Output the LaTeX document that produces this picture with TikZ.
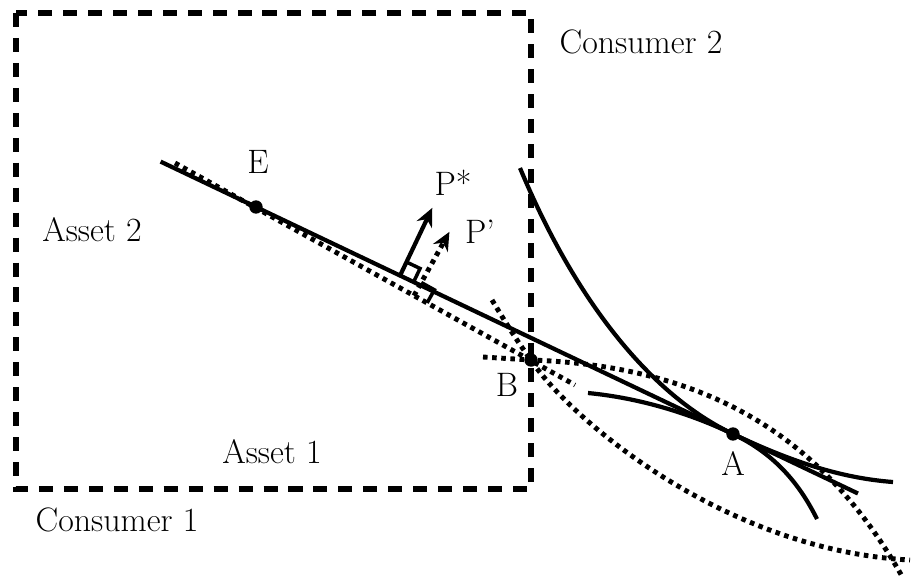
\documentclass[tikz,border=0pt]{standalone}
\usetikzlibrary{calc, arrows.meta}
\begin{document}
\begin{tikzpicture}[x=0.02cm, y=-0.02cm, line width=2.4pt,
  dotline/.style={line width=2.8pt, dash pattern=on 2.6pt off 2.6pt},
  boxline/.style={line width=3.1pt, dash pattern=on 8pt off 6.2pt},
  lbl/.style={font=\fontsize{19.3}{23}\selectfont, inner sep=0pt},
  vec/.style={-{Stealth[length=10.5pt, width=9.5pt]}},
]
  \useasboundingbox (0,0) rectangle (911,583);
  \coordinate (E) at (256,207);
  \coordinate (B) at (531,360);
  \coordinate (A) at (733,434);
  \coordinate (Lo) at (175,163);
  \coordinate (Hi) at (575,385);
  \coordinate (F1) at ($(E)!0.302!(A)$);
  \coordinate (F2) at ($(Lo)!0.5975!(Hi)$);
  % Edgeworth box
  \draw[boxline] (16,13) rectangle (531,489);
  % price lines
  \draw ($(E)!-0.2!(A)$) -- ($(E)!1.262!(A)$);
  \draw[dotline] (Lo) -- (Hi);
  % indifference curves through A
  \draw (520,168) .. controls (575,300) and (650,394.5) .. (A)
    .. controls (790,461) and (840,478) .. (893,482);
  \draw (588,393) .. controls (640,398) and (690,413.5) .. (A)
    .. controls (776,454.5) and (800,485) .. (817,519);
  % indifference curves through B
  \draw[dotline] (483,357) -- (B) .. controls (700,366) and (820,430) .. (903,578);
  \draw[dotline] (492,300) .. controls (510,330) and (520,345) .. (B)
    .. controls (566,414) and (720,550) .. (910,560);
  % normal vectors
  \coordinate (P1) at ($(F1)!1.5cm!90:(A)$);
  \coordinate (S1) at ($(F1)!0.3cm!(A)$);
  \coordinate (S3) at ($(F1)!0.3cm!90:(A)$);
  \draw[vec] (F1) -- (P1);
  \draw[line width=2pt] (S1) -- ($(S1)+(S3)-(F1)$) -- (S3);
  \coordinate (P2) at ($(F2)!1.46cm!90:(Hi)$);
  \coordinate (T1) at ($(F2)!0.3cm!(Hi)$);
  \coordinate (T3) at ($(F2)!0.3cm!90:(Hi)$);
  \draw[dotline, vec] (F2) -- (P2);
  \draw[line width=2pt] (T1) -- ($(T1)+(T3)-(F2)$) -- (T3);
  \foreach \pt in {E,B,A} \fill (\pt) circle (3.8pt);
  % labels
  \node[lbl] (c2) at (641,42) {Consumer 2};
  \node[lbl] (c1) at (117,520) {Consumer 1};
  \node[lbl] (a2) at (92,230) {Asset 2};
  \node[lbl] (a1) at (272,452) {Asset 1};
  \node[lbl] (lE) at (258,162) {E};
  \node[lbl] (lB) at (507,385) {B};
  \node[lbl] (lA) at (733,463) {A};
  \node[lbl] (lP1) at (453,183) {P*};
  \node[lbl] (lP2) at (480,232) {P'};
\end{tikzpicture}
\end{document}
